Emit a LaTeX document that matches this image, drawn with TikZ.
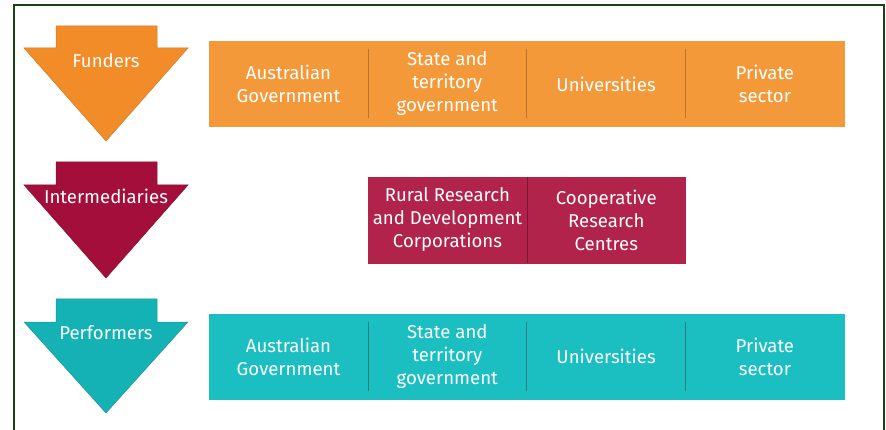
\documentclass[tikz,border=0pt]{standalone}
\usepackage{fontspec}
\setmainfont{Fira Sans}
\usetikzlibrary{positioning}

\definecolor{fundarrow}{HTML}{F28C28}
\definecolor{fundbar}{HTML}{F4993A}
\definecolor{fundline}{HTML}{B8742E}
\definecolor{interarrow}{HTML}{A30E3A}
\definecolor{interbar}{HTML}{B1234A}
\definecolor{interline}{HTML}{7E1633}
\definecolor{perfarrow}{HTML}{14B2B4}
\definecolor{perfbar}{HTML}{1BBFC1}
\definecolor{perfline}{HTML}{2E7F80}
\definecolor{framegreen}{HTML}{1B4212}

\tikzset{
  cell/.style={rectangle, fill=#1, draw=#1, line width=0.4pt,
    minimum width=158.4pt, minimum height=84.6pt, inner sep=0pt,
    text=white, align=center, font=\fontsize{18.6}{23}\selectfont},
  arrowtext/.style={text=white, inner sep=0pt, font=\fontsize{18.6}{23}\selectfont},
  divider/.style={line width=0.8pt}
}

\begin{document}
\begin{tikzpicture}[x=1pt,y=-1pt]
  \useasboundingbox (0,0) rectangle (886,430);
  \draw[framegreen, line width=2pt] (14,440) -- (14,5) -- (884,5) -- (884,440);

  % funders
  \draw[fill=fundarrow, draw=fundline!70!fundarrow, line width=0.5pt]
    (56,26) -- (157,26) -- (157,48) -- (188,48) -- (106,141) -- (24,48) -- (56,48) -- cycle;
  \node[arrowtext] (funders) at (106,61) {Funders};

  \node[cell=fundbar] (fAus) at (288.5,84) {Australian\\Government};
  \node[cell=fundbar, right=0pt of fAus] (fState) {State and\\territory\\government};
  \node[cell=fundbar, right=0pt of fState] (fUni) {Universities};
  \node[cell=fundbar, right=0pt of fUni] (fPriv) {Private\\sector};
  \draw[divider, fundline] ([yshift=-8pt]fAus.north east) -- ([yshift=8pt]fAus.south east);
  \draw[divider, fundline] ([yshift=-8pt]fState.north east) -- ([yshift=8pt]fState.south east);
  \draw[divider, fundline] ([yshift=-8pt]fUni.north east) -- ([yshift=8pt]fUni.south east);

  % intermediaries
  \draw[fill=interarrow, draw=interline, line width=0.5pt]
    (56,162) -- (157,162) -- (157,185) -- (188,185) -- (106,278) -- (24,185) -- (56,185) -- cycle;
  \node[arrowtext] (inter) at (106,196) {Intermediaries};

  \node[cell=interbar, minimum height=85.6pt] (iRural) at (447.5,220) {Rural Research\\and Development\\Corporations};
  \node[cell=interbar, minimum height=85.6pt, right=0pt of iRural] (iCoop) {Cooperative\\Research\\Centres};
  \draw[divider, interline] (iRural.north east) -- (iRural.south east);

  % performers
  \draw[fill=perfarrow, draw=perfline!60!perfarrow, line width=0.5pt]
    (56,299) -- (157,299) -- (157,322) -- (188,322) -- (106,413) -- (24,322) -- (56,322) -- cycle;
  \node[arrowtext] (perf) at (106,333) {Performers};

  \node[cell=perfbar] (pAus) at (288.5,356.5) {Australian\\Government};
  \node[cell=perfbar, right=0pt of pAus] (pState) {State and\\territory\\government};
  \node[cell=perfbar, right=0pt of pState] (pUni) {Universities};
  \node[cell=perfbar, right=0pt of pUni] (pPriv) {Private\\sector};
  \draw[divider, perfline] ([yshift=-8pt]pAus.north east) -- ([yshift=8pt]pAus.south east);
  \draw[divider, perfline] ([yshift=-8pt]pState.north east) -- ([yshift=8pt]pState.south east);
  \draw[divider, perfline] ([yshift=-8pt]pUni.north east) -- ([yshift=8pt]pUni.south east);
\end{tikzpicture}
\end{document}
